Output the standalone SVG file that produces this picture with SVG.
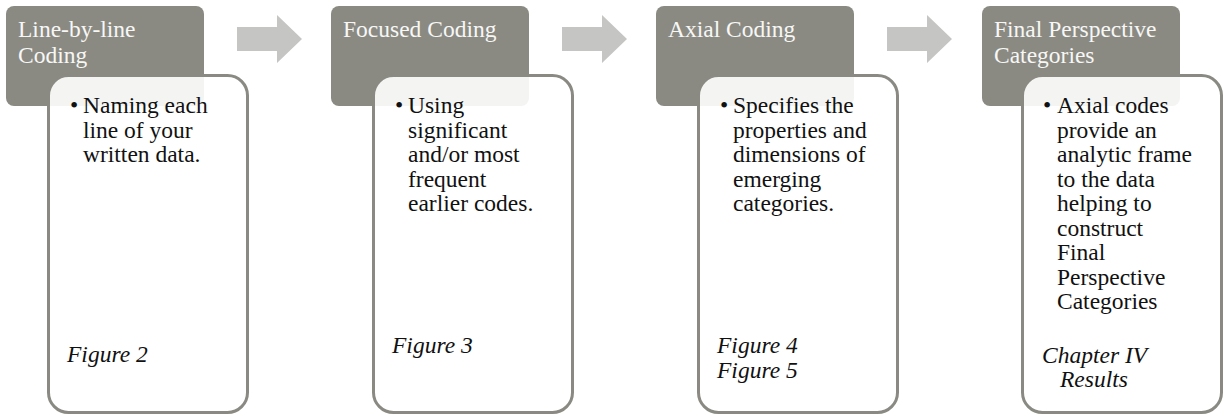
<svg xmlns="http://www.w3.org/2000/svg" width="1225" height="417" viewBox="0 0 1225 417">
<style>
.hdr{fill:#8a8a83}
.body{fill:#ffffff;fill-opacity:0.9;stroke:#8a8a83;stroke-width:3}
.arrow{fill:#c5c5c3}
.ht{font-family:"Liberation Serif",serif;font-size:23.5px;fill:#f7f7f5}
.bt{font-family:"Liberation Serif",serif;font-size:23.5px;fill:#111111}
.fig{font-family:"Liberation Serif",serif;font-size:23.5px;font-style:italic;fill:#111111}
</style>
<defs>
<path id="arr" d="M0,12 H40 V0 L65,24 L40,48 V36 H0 Z"/>
</defs>
<g id="connectors">
<use href="#arr" class="arrow" x="237" y="15"/>
<use href="#arr" class="arrow" x="562" y="15"/>
<use href="#arr" class="arrow" x="887" y="15"/>
</g>
<g id="node1">
<rect class="hdr" x="6" y="6" width="198" height="100" rx="8"/>
<text class="ht" x="18" y="37">Line-by-line</text>
<text class="ht" x="18" y="63">Coding</text>
<rect class="body" x="48.5" y="75.5" width="199" height="337" rx="20"/>
<text class="bt" x="70" y="113">•</text>
<text class="bt" x="83" y="113">Naming each</text>
<text class="bt" x="83" y="137.5">line of your</text>
<text class="bt" x="83" y="162">written data.</text>
<text class="fig" x="67" y="362">Figure 2</text>
</g>
<g id="node2">
<rect class="hdr" x="331" y="6" width="198" height="100" rx="8"/>
<text class="ht" x="343" y="37">Focused Coding</text>
<rect class="body" x="373.5" y="75.5" width="199" height="337" rx="20"/>
<text class="bt" x="395" y="113">•</text>
<text class="bt" x="408" y="113">Using</text>
<text class="bt" x="408" y="137.5">significant</text>
<text class="bt" x="408" y="162">and/or most</text>
<text class="bt" x="408" y="186.5">frequent</text>
<text class="bt" x="408" y="211">earlier codes.</text>
<text class="fig" x="392" y="353">Figure 3</text>
</g>
<g id="node3">
<rect class="hdr" x="656" y="6" width="198" height="100" rx="8"/>
<text class="ht" x="668" y="37">Axial Coding</text>
<rect class="body" x="698.5" y="75.5" width="199" height="337" rx="20"/>
<text class="bt" x="720" y="113">•</text>
<text class="bt" x="733" y="113">Specifies the</text>
<text class="bt" x="733" y="137.5">properties and</text>
<text class="bt" x="733" y="162">dimensions of</text>
<text class="bt" x="733" y="186.5">emerging</text>
<text class="bt" x="733" y="211">categories.</text>
<text class="fig" x="717" y="353">Figure 4</text>
<text class="fig" x="717" y="378">Figure 5</text>
</g>
<g id="node4">
<rect class="hdr" x="982" y="6" width="198" height="100" rx="8"/>
<text class="ht" x="994" y="37">Final Perspective</text>
<text class="ht" x="994" y="63">Categories</text>
<rect class="body" x="1022.5" y="75.5" width="199" height="337" rx="20"/>
<text class="bt" x="1043" y="113">•</text>
<text class="bt" x="1057" y="113">Axial codes</text>
<text class="bt" x="1057" y="137.5">provide an</text>
<text class="bt" x="1057" y="162">analytic frame</text>
<text class="bt" x="1057" y="186.5">to the data</text>
<text class="bt" x="1057" y="211">helping to</text>
<text class="bt" x="1057" y="235.5">construct</text>
<text class="bt" x="1057" y="260">Final</text>
<text class="bt" x="1057" y="284.5">Perspective</text>
<text class="bt" x="1057" y="309">Categories</text>
<text class="fig" x="1042" y="363">Chapter IV</text>
<text class="fig" x="1060" y="387">Results</text>
</g>
</svg>
